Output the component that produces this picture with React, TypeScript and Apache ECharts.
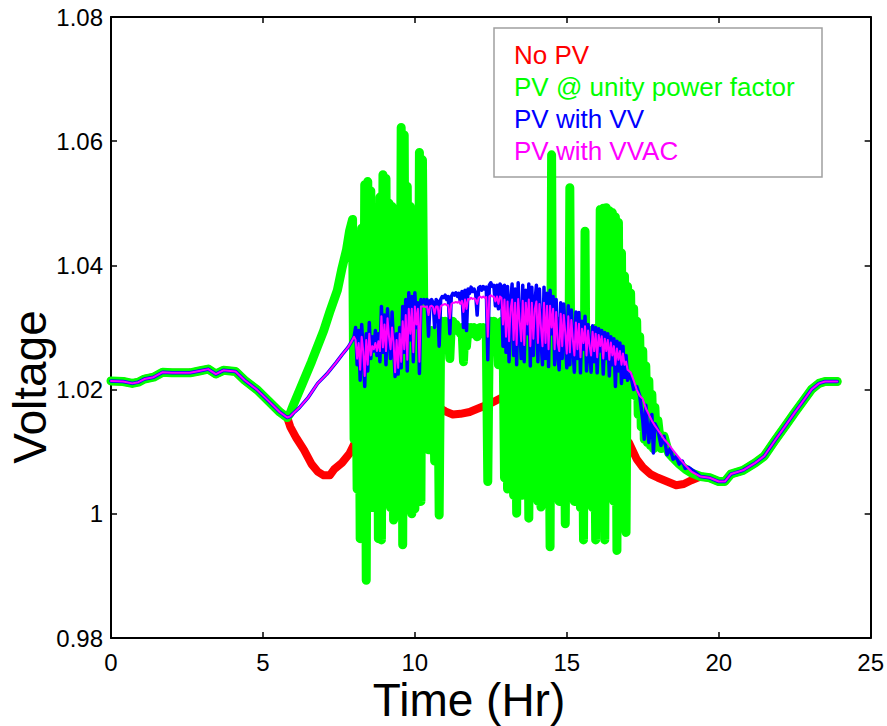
import React, { useEffect, useRef } from "react";
import * as echarts from "echarts";

const FONT = "'Liberation Sans', Arial, Helvetica, sans-serif";

// ---------- data (hours, per-unit voltage) ----------
const xTickValues = [0, 5, 10, 15, 20, 25];
const yMin = 0.98;
const yMax = 1.08;
const yStep = 0.02;

const legendNames = ["No PV", "PV @ unity power factor", "PV with VV", "PV with VVAC"];
const seriesColors = ["#ff0000", "#00ff00", "#0000ff", "#ff00ff"];

// shared night-time segments (all four cases coincide)
const morningT = [0, 0.4, 0.7, 0.9, 1.1, 1.4, 1.7, 2.0, 2.6, 2.9, 3.2, 3.45, 3.7, 4.1, 4.4, 4.8, 5.2, 5.55, 5.8];
const morningV = [1.0214, 1.0213, 1.021, 1.0212, 1.0217, 1.022, 1.0228, 1.0227, 1.0227, 1.023, 1.0233, 1.0225, 1.0231, 1.0229, 1.0215, 1.02, 1.0181, 1.0164, 1.0155];

const eveningT = [19.4, 19.7, 20.0, 20.2, 20.4, 20.8, 21.2, 21.5, 21.85, 22.2, 22.5, 22.8, 23.05, 23.3, 23.5, 23.9];
const eveningV = [1.006, 1.0058, 1.0052, 1.0052, 1.0064, 1.007, 1.0082, 1.0093, 1.0118, 1.0142, 1.0163, 1.0183, 1.02, 1.021, 1.0213, 1.0213];

// No PV (daytime)
const noPvT = [5.9, 6.1, 6.35, 6.6, 6.8, 7.0, 7.2, 7.35, 7.6, 7.85, 8.0, 8.3, 8.8, 9.3, 9.8, 10.2, 10.5, 10.75, 11.0, 11.25, 11.5, 11.8, 12.1, 12.5, 12.9, 13.5, 14.5, 15.5, 16.3, 16.8, 17.05, 17.3, 17.5, 17.75, 18.0, 18.3, 18.6, 18.85, 19.1];
const noPvV = [1.014, 1.0122, 1.0103, 1.008, 1.0068, 1.0062, 1.0062, 1.0072, 1.0082, 1.0097, 1.0112, 1.0125, 1.014, 1.015, 1.0158, 1.0164, 1.017, 1.0172, 1.0165, 1.016, 1.0161, 1.0164, 1.017, 1.0178, 1.0188, 1.0195, 1.02, 1.019, 1.0165, 1.013, 1.0114, 1.0088, 1.0075, 1.0064, 1.0058, 1.0052, 1.0046, 1.0048, 1.0054];

// Unity PF: morning ramp
const unityRampT = [5.9, 6.0, 6.3, 6.6, 6.8, 7.0, 7.2, 7.45, 7.6, 7.75, 7.85, 7.95];
const unityRampV = [1.0162, 1.0175, 1.021, 1.0245, 1.027, 1.0295, 1.0325, 1.036, 1.0395, 1.0425, 1.0455, 1.0474];

// daytime sample times (shared by the three PV cases), 3-minute spacing
const dayT = [
  8.0, 8.05, 8.1, 8.15, 8.2, 8.25, 8.3, 8.35, 8.4, 8.45, 8.5, 8.55, 8.6, 8.65, 8.7, 8.75, 8.8, 8.85, 8.9, 8.95,
  9.0, 9.05, 9.1, 9.15, 9.2, 9.25, 9.3, 9.35, 9.4, 9.45, 9.5, 9.55, 9.6, 9.65, 9.7, 9.75, 9.8, 9.85, 9.9, 9.95,
  10.0, 10.05, 10.1, 10.15, 10.2, 10.25, 10.3, 10.35, 10.4, 10.45, 10.5, 10.55, 10.6, 10.65, 10.7, 10.75, 10.8, 10.85, 10.9, 10.95,
  11.0, 11.05, 11.1, 11.15, 11.2, 11.25, 11.3, 11.35, 11.4, 11.45, 11.5, 11.55, 11.6, 11.65, 11.7, 11.75, 11.8, 11.85, 11.9, 11.95,
  12.0, 12.05, 12.1, 12.15, 12.2, 12.25, 12.3, 12.35, 12.4, 12.45, 12.5, 12.55, 12.6, 12.65, 12.7, 12.75, 12.8, 12.85, 12.9, 12.95,
  13.0, 13.05, 13.1, 13.15, 13.2, 13.25, 13.3, 13.35, 13.4, 13.45, 13.5, 13.55, 13.6, 13.65, 13.7, 13.75, 13.8, 13.85, 13.9, 13.95,
  14.0, 14.05, 14.1, 14.15, 14.2, 14.25, 14.3, 14.35, 14.4, 14.45, 14.5, 14.55, 14.6, 14.65, 14.7, 14.75, 14.8, 14.85, 14.9, 14.95,
  15.0, 15.05, 15.1, 15.15, 15.2, 15.25, 15.3, 15.35, 15.4, 15.45, 15.5, 15.55, 15.6, 15.65, 15.7, 15.75, 15.8, 15.85, 15.9, 15.95,
  16.0, 16.05, 16.1, 16.15, 16.2, 16.25, 16.3, 16.35, 16.4, 16.45, 16.5, 16.55, 16.6, 16.65, 16.7, 16.75, 16.8, 16.85, 16.9, 16.95,
  17.0,
];

const unityDayV = [
  1.012, 1.034, 1.004, 1.045, 0.996, 1.046, 1.003, 1.053, 0.9893, 1.0535, 1.003, 1.052, 1.001, 1.047, 1.004, 1.046, 0.996, 1.051, 0.9958, 1.0546,
  1.002, 1.054, 1.004, 1.05, 1.001, 1.0495, 0.999, 1.0453, 1.003, 1.045, 1.004, 1.0622, 0.995, 1.061, 1.001, 1.0527, 1.004, 1.0495, 1.0, 1.046,
  1.0008, 1.047, 1.004, 1.0582, 1.002, 1.057, 1.029, 1.0285, 1.028, 1.0103, 1.029, 1.0295, 1.029, 1.0085, 1.029, 1.029, 0.9998, 1.03, 1.031, 1.0305,
  1.031, 1.03, 1.029, 1.025, 1.0305, 1.031, 1.03, 1.0305, 1.0295, 1.03, 1.029, 1.03, 1.0245, 1.03, 1.027, 1.03, 1.0295, 1.03, 1.029, 1.03,
  1.029, 1.0285, 1.0295, 1.03, 1.029, 1.03, 1.029, 1.0295, 1.0052, 1.03, 1.031, 1.0305, 1.031, 1.0305, 1.03, 1.024, 1.03, 1.031, 1.03, 1.0058,
  1.03, 1.004, 1.0305, 1.005, 1.0295, 1.003, 1.031, 1.0001, 1.03, 1.004, 1.0315, 1.003, 1.03, 1.005, 1.031, 0.9993, 1.0305, 1.004, 1.03, 1.005,
  1.031, 1.002, 1.03, 1.0011, 1.0315, 1.004, 1.0305, 1.003, 1.03, 0.9947, 1.0578, 1.004, 1.03, 1.005, 1.031, 1.002, 1.03, 1.004, 1.0295, 0.9984,
  1.03, 1.003, 1.0525, 1.005, 1.03, 1.002, 1.0295, 1.004, 1.03, 1.001, 1.029, 0.9958, 1.0455, 1.004, 1.029, 1.005, 1.0295, 1.001, 1.029, 0.9958,
  1.03, 1.004, 1.049, 1.003, 1.0492, 0.9958, 1.0493, 1.004, 1.0488, 1.005, 1.0485, 1.002, 1.0478, 0.9941, 1.0469, 1.004, 1.042, 1.003, 1.0383, 0.997,
  1.0366,
];

const unityTailT = [17.05, 17.1, 17.15, 17.2, 17.25, 17.3, 17.35, 17.4, 17.45, 17.5, 17.55, 17.6, 17.65, 17.7, 17.75, 17.8, 17.85, 17.9, 17.95, 18.0, 18.1, 18.2, 18.35, 18.5, 18.7, 18.9, 19.1];
const unityTailV = [1.022, 1.0355, 1.02, 1.033, 1.019, 1.031, 1.016, 1.0285, 1.014, 1.0262, 1.012, 1.0238, 1.0115, 1.0214, 1.011, 1.0192, 1.0105, 1.0171, 1.011, 1.015, 1.0105, 1.0125, 1.0098, 1.009, 1.008, 1.0072, 1.0066];

// VV / VVAC: morning ramp
const vvRampT = [5.9, 6.0, 6.2, 6.5, 6.8, 7.1, 7.4, 7.6, 7.8, 7.9];
const vvRampV = [1.0157, 1.0162, 1.0171, 1.0188, 1.021, 1.0225, 1.0243, 1.0256, 1.0268, 1.0276];

const vvDayV = [
  1.0285, 1.03, 1.024, 1.0295, 1.0215, 1.0305, 1.026, 1.0205, 1.029, 1.023, 1.0308, 1.025, 1.0285, 1.0262, 1.0295, 1.0255, 1.029, 1.0245, 1.0334, 1.026,
  1.032, 1.024, 1.033, 1.0285, 1.025, 1.0325, 1.027, 1.0221, 1.029, 1.0225, 1.03, 1.0235, 1.0334, 1.026, 1.0345, 1.023, 1.0356, 1.028, 1.035, 1.0245,
  1.0356, 1.03, 1.034, 1.0226, 1.0345, 1.034, 1.0345, 1.0338, 1.0345, 1.0286, 1.0343, 1.0345, 1.034, 1.03, 1.0345, 1.0342, 1.027, 1.0345, 1.035, 1.0348,
  1.0352, 1.0345, 1.035, 1.029, 1.035, 1.0355, 1.0352, 1.0356, 1.035, 1.0355, 1.034, 1.0358, 1.03, 1.036, 1.0295, 1.0362, 1.0355, 1.0365, 1.0358, 1.0362,
  1.0355, 1.032, 1.0364, 1.0366, 1.036, 1.0366, 1.0362, 1.0365, 1.0248, 1.0368, 1.0372, 1.0366, 1.0368, 1.0335, 1.0368, 1.033, 1.037, 1.0366, 1.027, 1.0368,
  1.026, 1.0366, 1.0245, 1.034, 1.037, 1.0255, 1.0362, 1.024, 1.0372, 1.03, 1.025, 1.0368, 1.0245, 1.036, 1.029, 1.037, 1.0238, 1.0365, 1.0255, 1.034,
  1.0368, 1.0245, 1.0362, 1.028, 1.024, 1.0365, 1.025, 1.0355, 1.0237, 1.036, 1.029, 1.035, 1.024, 1.0345, 1.026, 1.0232, 1.034, 1.025, 1.0338, 1.0285,
  1.0235, 1.0335, 1.024, 1.0328, 1.027, 1.0228, 1.0325, 1.025, 1.0324, 1.0227, 1.031, 1.0265, 1.0318, 1.023, 1.0305, 1.026, 1.0228, 1.0303, 1.0245, 1.03,
  1.0227, 1.0298, 1.0262, 1.0295, 1.0225, 1.0292, 1.025, 1.029, 1.0222, 1.0285, 1.024, 1.0282, 1.0205, 1.0278, 1.023, 1.0275, 1.021, 1.027, 1.022, 1.0255,
  1.0215,
];

const vvTailT = [17.1, 17.2, 17.3, 17.4, 17.5, 17.55, 17.6, 17.7, 17.8, 17.85, 17.9, 18.0, 18.1, 18.2, 18.3, 18.4, 18.5, 18.6, 18.7, 18.8, 18.9, 19.0, 19.2];
const vvTailV = [1.0225, 1.02, 1.0205, 1.019, 1.015, 1.012, 1.0175, 1.0115, 1.016, 1.0098, 1.0145, 1.0135, 1.011, 1.0125, 1.0095, 1.0105, 1.0088, 1.0092, 1.008, 1.0085, 1.0073, 1.0075, 1.0068];

const vvacDayV = [
  1.0285, 1.028, 1.025, 1.0275, 1.0232, 1.0285, 1.0262, 1.0222, 1.028, 1.024, 1.029, 1.0255, 1.027, 1.0265, 1.0275, 1.0262, 1.0278, 1.0262, 1.0318, 1.0268,
  1.0305, 1.0262, 1.0315, 1.0285, 1.0265, 1.03, 1.0275, 1.0228, 1.028, 1.0235, 1.029, 1.0245, 1.031, 1.0265, 1.032, 1.0248, 1.033, 1.029, 1.033, 1.026,
  1.0334, 1.0305, 1.033, 1.0245, 1.0334, 1.0334, 1.0334, 1.0333, 1.0334, 1.032, 1.0334, 1.0335, 1.0333, 1.0322, 1.0334, 1.0334, 1.0315, 1.0334, 1.0336, 1.0337,
  1.0338, 1.0336, 1.0336, 1.0315, 1.0338, 1.034, 1.034, 1.0341, 1.034, 1.0342, 1.0338, 1.0343, 1.0325, 1.0345, 1.033, 1.0346, 1.0345, 1.0348, 1.0346, 1.0347,
  1.0345, 1.0338, 1.0348, 1.035, 1.0348, 1.035, 1.0348, 1.0349, 1.0285, 1.035, 1.0352, 1.035, 1.035, 1.0342, 1.035, 1.0338, 1.035, 1.0348, 1.0305, 1.0345,
  1.0285, 1.0342, 1.0278, 1.033, 1.0345, 1.028, 1.034, 1.0272, 1.0346, 1.031, 1.0278, 1.0343, 1.0272, 1.034, 1.0305, 1.0345, 1.027, 1.034, 1.0282, 1.033,
  1.0342, 1.0275, 1.0338, 1.03, 1.027, 1.034, 1.0275, 1.0335, 1.0265, 1.0335, 1.03, 1.033, 1.0265, 1.0325, 1.0275, 1.0262, 1.0322, 1.027, 1.032, 1.0292,
  1.0258, 1.0318, 1.026, 1.0312, 1.028, 1.0255, 1.0308, 1.0265, 1.0306, 1.0252, 1.0298, 1.0275, 1.0302, 1.0255, 1.0295, 1.027, 1.0255, 1.0293, 1.0262, 1.029,
  1.0252, 1.0288, 1.027, 1.0286, 1.025, 1.0282, 1.0262, 1.028, 1.0248, 1.0276, 1.0255, 1.027, 1.024, 1.0266, 1.0248, 1.0262, 1.024, 1.0258, 1.024, 1.0245,
  1.0232,
];

const vvacTailT = [17.1, 17.2, 17.3, 17.4, 17.5, 17.6, 17.7, 17.8, 17.9, 18.0, 18.1, 18.2, 18.35, 18.5, 18.7, 18.9, 19.1];
const vvacTailV = [1.0228, 1.0215, 1.02, 1.019, 1.0185, 1.017, 1.016, 1.015, 1.0142, 1.0135, 1.0128, 1.012, 1.0112, 1.0102, 1.009, 1.0078, 1.0068];

// ---------- helpers ----------
const pairs = (t: number[], v: number[]) => t.map((x, i) => [x, v[i]]);

const noPvData = [...pairs(morningT, morningV), ...pairs(noPvT, noPvV), ...pairs(eveningT, eveningV)];
const unityData = [
  ...pairs(morningT, morningV),
  ...pairs(unityRampT, unityRampV),
  ...pairs(dayT, unityDayV),
  ...pairs(unityTailT, unityTailV),
  ...pairs(eveningT, eveningV),
];
const vvData = [
  ...pairs(morningT, morningV),
  ...pairs(vvRampT, vvRampV),
  ...pairs(dayT, vvDayV),
  ...pairs(vvTailT, vvTailV),
  ...pairs(eveningT, eveningV),
];
const vvacData = [
  ...pairs(morningT, morningV),
  ...pairs(vvRampT, vvRampV),
  ...pairs(dayT, vvacDayV),
  ...pairs(vvacTailT, vvacTailV),
  ...pairs(eveningT, eveningV),
];

const seriesData = [noPvData, unityData, vvData, vvacData];
const seriesWidths = [8, 9, 3.5, 2];

export default function App() {
  const ref = useRef<HTMLDivElement>(null);

  useEffect(() => {
    if (!ref.current) return;
    const chart = echarts.init(ref.current, undefined, { renderer: "svg" });

    const axisLine = { show: true, onZero: false, lineStyle: { color: "#000", width: 2 } };
    const axisTick = { show: true, inside: true, length: 6, lineStyle: { color: "#000", width: 1.5 } };

    const option: any = {
      animation: false,
      backgroundColor: "#fff",
      grid: { left: 111, right: 14, top: 17, bottom: 88, containLabel: false },
      xAxis: [
        {
          type: "value",
          min: xTickValues[0],
          max: xTickValues[xTickValues.length - 1],
          interval: 5,
          position: "bottom",
          axisLine,
          axisTick,
          splitLine: { show: false },
          axisLabel: { fontSize: 24, color: "#000", fontFamily: FONT, margin: 12 },
        },
        {
          type: "value",
          min: xTickValues[0],
          max: xTickValues[xTickValues.length - 1],
          interval: 5,
          position: "top",
          axisLine,
          axisTick,
          splitLine: { show: false },
          axisLabel: { show: false },
        },
      ],
      yAxis: [
        {
          type: "value",
          min: yMin,
          max: yMax,
          interval: yStep,
          position: "left",
          axisLine,
          axisTick,
          splitLine: { show: false },
          axisLabel: {
            fontSize: 24,
            color: "#000",
            fontFamily: FONT,
            margin: 8,
            formatter: (v: number) => String(+v.toFixed(2)),
          },
        },
        {
          type: "value",
          min: yMin,
          max: yMax,
          interval: yStep,
          position: "right",
          axisLine,
          axisTick,
          splitLine: { show: false },
          axisLabel: { show: false },
        },
      ],
      series: seriesData.map((d, i) => ({
        name: legendNames[i],
        type: "line",
        xAxisIndex: 0,
        yAxisIndex: 0,
        data: d,
        showSymbol: false,
        symbol: "none",
        z: 2 + i,
        lineStyle: { color: seriesColors[i], width: seriesWidths[i], cap: "round", join: "round" },
        emphasis: { disabled: true },
      })),
      graphic: [
        {
          type: "rect",
          z: 1,
          shape: { x: 494, y: 28, width: 328, height: 149 },
          style: { fill: "rgba(255,255,255,0)", stroke: "#a0a0a0", lineWidth: 1.5 },
        },
        ...legendNames.map((name, i) => ({
          type: "text",
          z: 1,
          x: 514,
          y: 55 + i * 32,
          style: {
            text: name,
            fill: seriesColors[i],
            fontSize: 26,
            fontFamily: FONT,
            align: "left",
            verticalAlign: "middle",
          },
        })),
        {
          type: "text",
          x: 30,
          y: 387,
          rotation: Math.PI / 2,
          style: { text: "Voltage", fill: "#000", fontSize: 46, fontFamily: FONT, align: "center", verticalAlign: "middle" },
        },
        {
          type: "text",
          x: 469,
          y: 700,
          style: { text: "Time (Hr)", fill: "#000", fontSize: 46, fontFamily: FONT, align: "center", verticalAlign: "middle" },
        },
      ],
    };

    chart.setOption(option);
    return () => chart.dispose();
  }, []);

  return (
    <div
      ref={ref}
      style={{ position: "fixed", left: 0, top: 0, width: 887, height: 726, background: "#fff" }}
    />
  );
}
